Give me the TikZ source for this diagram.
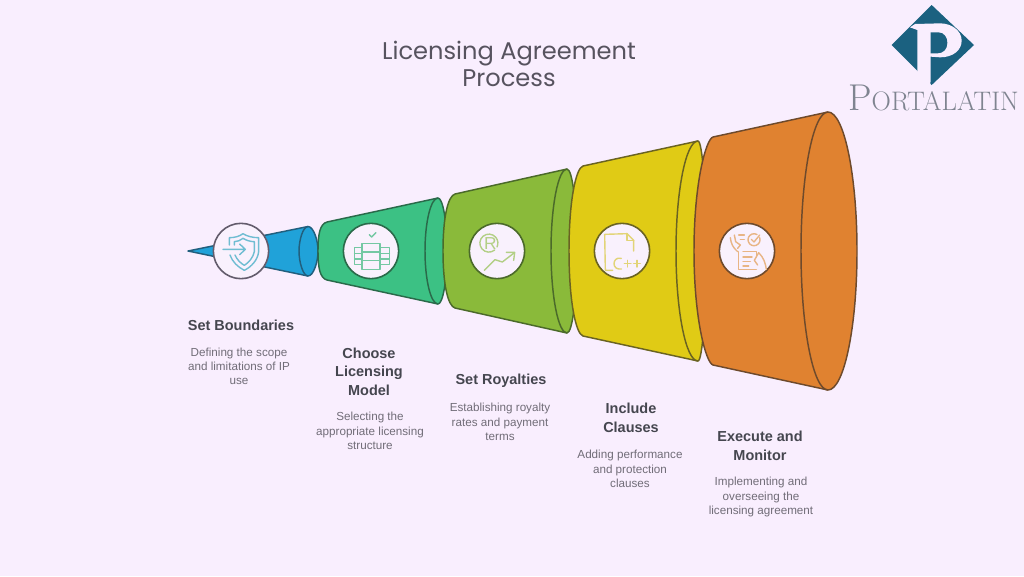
\documentclass[tikz,border=0pt]{standalone}
\usepackage{fontspec}
\newfontfamily\ttlfont{Poppins}
\newfontfamily\hdfont{Liberation Sans}[BoldFont={Liberation Sans Bold}]
\definecolor{pagebg}{HTML}{F9EEFE}
\definecolor{discbg}{HTML}{F9F1FD}
\definecolor{blueF}{HTML}{20A2D9}\definecolor{blueS}{HTML}{215F7E}\definecolor{blueI}{HTML}{6FBDD2}\definecolor{blueD}{HTML}{635C6C}
\definecolor{greenF}{HTML}{3CC184}\definecolor{greenS}{HTML}{2A6A4A}\definecolor{greenI}{HTML}{74C8A3}\definecolor{greenD}{HTML}{2A6A4A}
\definecolor{oliveF}{HTML}{8ABA3A}\definecolor{oliveS}{HTML}{4B6A2A}\definecolor{oliveI}{HTML}{B3CF86}\definecolor{oliveD}{HTML}{4B6A2A}
\definecolor{yellowF}{HTML}{E0CB15}\definecolor{yellowS}{HTML}{6A6322}\definecolor{yellowI}{HTML}{E2D478}\definecolor{yellowD}{HTML}{6A6322}
\definecolor{orangeF}{HTML}{E08230}\definecolor{orangeS}{HTML}{6E4A2C}\definecolor{orangeI}{HTML}{E8B585}\definecolor{orangeD}{HTML}{6E4A2C}
\definecolor{logoT}{HTML}{1B6180}
\definecolor{logoG}{HTML}{7F8490}
\definecolor{titleC}{HTML}{57535F}
\definecolor{headC}{HTML}{45464F}
\definecolor{bodyC}{HTML}{716D78}
\tikzset{
  x=0.75pt,y=-0.75pt,
  funnelbody/.style={fill=#1F,draw=#1S,line width=1.1pt,line join=round},
  funnelrim/.style={draw=#1S,line width=1.1pt},
  disc/.style={circle,minimum size=41.5pt,inner sep=0pt,fill=discbg,draw=#1D,line width=1.2pt},
  iconline/.style={draw=#1I,line width=1.05pt,line cap=round,line join=round},
  titletext/.style={align=center,text=titleC,font=\ttlfont\fontsize{18.1}{20.3}\selectfont,inner sep=0pt},
  headtext/.style={align=center,text=headC,font=\hdfont\bfseries\fontsize{10.85}{13.9}\selectfont,inner sep=0pt},
  bodytext/.style={align=center,text=bodyC,font=\hdfont\fontsize{8.75}{10.7}\selectfont,inner sep=0pt},
}
\newcommand{\funnelstage}[8]{%
  \path[funnelbody=#1] (#2,251)
    .. controls (#2,{251-0.6*#4}) and ({#3-7},{251-#4+2}) .. (#3,{251-#4})
    -- (#5,{251-#6})
    .. controls ({#5+0.55*(#7-#5)},{251-#6}) and (#7,{251-0.55*#6}) .. (#7,251)
    .. controls (#7,{251+0.55*#6}) and ({#5+0.55*(#7-#5)},{251+#6}) .. (#5,{251+#6})
    -- (#3,{251+#4})
    .. controls ({#3-7},{251+#4-2}) and (#2,{251+0.6*#4}) .. (#2,251) -- cycle;
  \path[funnelrim=#1] (#5,{251-#6})
    .. controls ({#5-0.55*(#5-#8)},{251-#6}) and (#8,{251-0.55*#6}) .. (#8,251)
    .. controls (#8,{251+0.55*#6}) and ({#5-0.55*(#5-#8)},{251+#6}) .. (#5,{251+#6});
}
\begin{document}
\begin{tikzpicture}
\useasboundingbox (0,0) rectangle (1024,576);
\fill[pagebg] (0,0) rectangle (1024,576);

% title
\node[titletext] (title) at (509,64) {Licensing Agreement\\Process};

% blue cone
\path[funnelbody=blue] (188,251) -- (308,226.5)
  .. controls (313.5,226.5) and (318,240) .. (318,251)
  .. controls (318,262) and (313.5,276) .. (308,276) -- cycle;
\path[funnelrim=blue] (308,226.5) .. controls (303,226.5) and (299,240) .. (299,251)
  .. controls (299,262) and (303,276) .. (308,276);
% stages, small to large
\funnelstage{green}{318}{327}{29}{438}{53}{447}{425}
\funnelstage{olive}{443}{455}{57}{567}{82}{577}{551}
\funnelstage{yellow}{569}{583}{85}{698}{110}{706}{676}
\funnelstage{orange}{694}{713}{114}{828}{139}{857}{801}

% discs
\node[disc=blue] (d1) at (241,251) {};
\node[disc=green] (d2) at (371,251) {};
\node[disc=olive] (d3) at (497,251) {};
\node[disc=yellow] (d4) at (622,251) {};
\node[disc=orange] (d5) at (747,251) {};

% icon 1: shield with arrow
\begin{scope}[shift={(211,221)},scale=1/3]
  \draw[iconline=blue] (55,72) -- (55,50) .. controls (72,50) and (85,46) .. (96,38)
    .. controls (108,46) and (125,50) .. (143,50) -- (143,92)
    .. controls (140,118) and (120,138) .. (100,148) .. controls (80,138) and (64,122) .. (57,102);
  \draw[iconline=blue] (70,72) -- (70,62) .. controls (80,62) and (88,58) .. (96,52)
    .. controls (106,58) and (118,62) .. (130,62) -- (130,92)
    .. controls (126,110) and (114,124) .. (100,133) .. controls (88,126) and (78,116) .. (72,102);
  \draw[iconline=blue] (36,85) -- (103,85) (86,69) -- (103,85) -- (86,101);
\end{scope}

% icon 2: server stack with check
\begin{scope}[shift={(341,221)},scale=1/3]
  \draw[iconline=green] (85,41) -- (92,48) -- (105,35);
  \draw[iconline=green] (63,68) rectangle (117,145);
  \draw[iconline=green] (63,93) -- (117,93) (63,118) -- (117,118);
  \draw[iconline=green] (63,80) -- (41,80) -- (41,131) -- (63,131) (41,97) -- (63,97) (41,114) -- (63,114);
  \draw[iconline=green] (117,80) -- (145,80) -- (145,131) -- (117,131) (117,97) -- (145,97) (117,114) -- (145,114);
\end{scope}

% icon 3: royalty R with rising arrow
\begin{scope}[shift={(467,221)},scale=1/3]
  \draw[iconline=olive] (83,87) arc[start angle=50,end angle=385,radius=27];
  \node[text=oliveI,font=\hdfont\fontsize{13}{13}\selectfont,inner sep=0pt] (rsym) at (70,68) {R};
  \draw[iconline=olive] (52,148) -- (84,116) -- (106,123) -- (141,96);
  \draw[iconline=olive] (118,94) -- (143,94) -- (140,118);
\end{scope}

% icon 4: document with C++
\begin{scope}[shift={(592,221)},scale=1/3]
  \draw[iconline=yellow] (62,148) -- (40,148) -- (38,40) -- (105,38) -- (125,58) -- (125,90);
  \draw[iconline=yellow] (105,38) -- (105,58) -- (125,58);
  \draw[iconline=yellow] (88,112) .. controls (72,108) and (66,120) .. (66,128)
    .. controls (66,138) and (74,146) .. (88,144);
  \draw[iconline=yellow] (97,128) -- (117,128) (107,118) -- (107,138);
  \draw[iconline=yellow] (125,128) -- (145,128) (135,118) -- (135,138);
\end{scope}

% icon 5: signed document with hands
\begin{scope}[shift={(717,221)},scale=1/3]
  \draw[iconline=orange] (128,50) arc[start angle=-20,end angle=300,radius=18];
  \draw[iconline=orange] (103,55) -- (111,63) -- (128,42);
  \draw[iconline=orange] (65,92) -- (65,145) -- (118,145) (78,92) -- (118,92) -- (118,105);
  \draw[iconline=orange] (78,108) -- (105,108) (78,122) -- (100,122) (78,135) -- (95,135);
  \draw[iconline=orange] (40,50) .. controls (42,68) and (48,80) .. (62,92);
  \draw[iconline=orange] (52,42) -- (56,62) -- (70,72) -- (62,82);
  \draw[iconline=orange] (65,42) -- (82,42) (70,56) -- (82,56);
  \draw[iconline=orange] (148,145) .. controls (145,125) and (140,110) .. (125,95) -- (112,118) -- (122,132);
\end{scope}

% labels
\node[headtext] (h1) at (241,325) {Set Boundaries};
\node[bodytext] (b1) at (239,366.5) {Defining the scope\\and limitations of IP\\use};
\node[headtext] (h2) at (369,371.5) {Choose\\Licensing\\Model};
\node[bodytext] (b2) at (370,431) {Selecting the\\appropriate licensing\\structure};
\node[headtext] (h3) at (501,381) {Set Royalties};
\node[bodytext] (b3) at (500,422) {Establishing royalty\\rates and payment\\terms};
\node[headtext] (h4) at (631,418) {Include\\Clauses};
\node[bodytext] (b4) at (630,469) {Adding performance\\and protection\\clauses};
\node[headtext] (h5) at (760,446) {Execute and\\Monitor};
\node[bodytext] (b5) at (761,497) {Implementing and\\overseeing the\\licensing agreement};

% logo
\begin{scope}[shift={(830,0)},scale=1/3]
  \fill[logoT] (305,15) -- (432,135) -- (305,255) -- (185,135) -- cycle;
  \fill[pagebg] (240,82) -- (262,90) -- (262,222) -- (300,262) -- (302,240) -- (302,170)
     -- (330,172) .. controls (370,172) and (395,150) .. (395,122)
     .. controls (395,92) and (365,70) .. (330,70) -- (255,72) -- cycle;
  \fill[logoT] (302,97) -- (325,97) .. controls (342,97) and (352,112) .. (352,128)
     .. controls (352,148) and (340,160) .. (322,160) -- (302,160) -- cycle;
\end{scope}
\node[anchor=base west,text=logoG,inner sep=0pt,font=\fontsize{28}{28}\selectfont] (logotext) at (848,110) {P\fontsize{20.1}{22}\selectfont ORTALATIN};
\end{tikzpicture}
\end{document}
